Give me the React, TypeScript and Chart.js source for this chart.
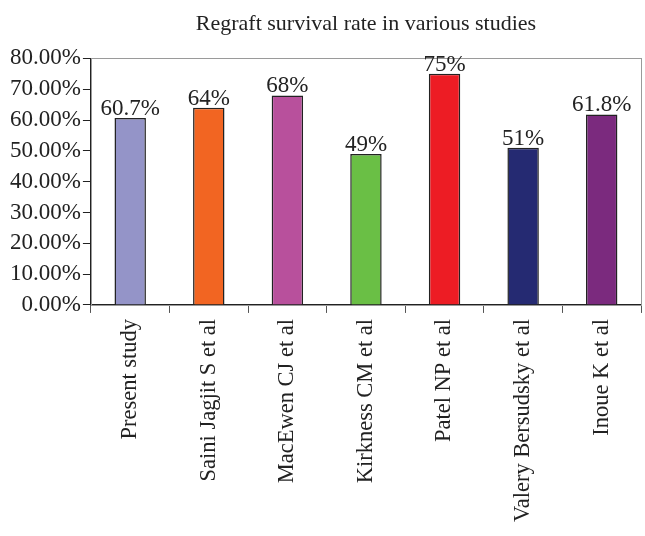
import React, { useEffect, useRef } from "react";
import { Chart, registerables } from "chart.js";

Chart.register(...registerables);

const studies = [
  "Present study",
  "Saini Jagjit S et al",
  "MacEwen CJ et al",
  "Kirkness CM et al",
  "Patel NP et al",
  "Valery Bersudsky et al",
  "Inoue K et al",
];

const survivalRates = [60.7, 64, 68, 49, 75, 51, 61.8];

const barColors = [
  "#9494c8",
  "#f26522",
  "#b8509c",
  "#6abf45",
  "#ed1c24",
  "#252a72",
  "#7b2a7e",
];

const FONT = "'Liberation Serif', 'Times New Roman', serif";
const TEXT_SIZE = 23;

// Light grey frame around the plot area (top and right edges show through)
const framePlugin = {
  id: "plotFrame",
  beforeDatasetsDraw(chart: any) {
    const { ctx, chartArea } = chart;
    ctx.save();
    ctx.strokeStyle = "#9a9a9a";
    ctx.lineWidth = 1;
    ctx.strokeRect(
      Math.round(chartArea.left) + 0.5,
      Math.round(chartArea.top) + 0.5,
      Math.round(chartArea.right - chartArea.left),
      Math.round(chartArea.bottom - chartArea.top)
    );
    ctx.restore();
  },
};

// Value labels above each bar
const valueLabelPlugin = {
  id: "valueLabels",
  afterDatasetsDraw(chart: any) {
    const { ctx } = chart;
    const meta = chart.getDatasetMeta(0);
    const data = chart.data.datasets[0].data as number[];
    ctx.save();
    ctx.font = `${TEXT_SIZE}px ${FONT}`;
    ctx.fillStyle = "#222";
    ctx.textAlign = "center";
    ctx.textBaseline = "alphabetic";
    meta.data.forEach((bar: any, i: number) => {
      ctx.fillText(`${data[i]}%`, bar.x, bar.y - 3);
    });
    ctx.restore();
  },
};

export default function App() {
  const canvasRef = useRef<HTMLCanvasElement>(null);

  useEffect(() => {
    if (!canvasRef.current) return;
    const chart = new Chart(canvasRef.current, {
      type: "bar",
      data: {
        labels: studies,
        datasets: [
          {
            data: survivalRates,
            backgroundColor: barColors,
            borderColor: "#222",
            borderWidth: 1.5,
            barPercentage: 0.4,
            categoryPercentage: 1,
          },
        ],
      },
      options: {
        responsive: false,
        animation: false,
        layout: { padding: { top: 11, right: 4, bottom: 8, left: 8 } },
        plugins: {
          legend: { display: false },
          tooltip: { enabled: false },
          title: {
            display: true,
            text: "Regraft survival rate in various studies",
            color: "#222",
            fullSize: false,
            font: { family: FONT, size: 22, weight: "normal" },
            padding: { top: 0, bottom: 21 },
          },
        },
        scales: {
          x: {
            grid: {
              display: true,
              drawOnChartArea: false,
              drawTicks: true,
              tickLength: 8,
              tickColor: "#555",
              offset: true,
            },
            border: { display: true, color: "#222", width: 1 },
            ticks: {
              color: "#222",
              minRotation: 90,
              maxRotation: 90,
              autoSkip: false,
              padding: 6,
              font: { family: FONT, size: 22.5 },
            },
          },
          y: {
            min: 0,
            max: 80,
            grid: {
              display: true,
              drawOnChartArea: false,
              drawTicks: true,
              tickLength: 8,
              tickColor: "#222",
            },
            border: { display: true, color: "#222", width: 1 },
            ticks: {
              stepSize: 10,
              autoSkip: false,
              color: "#222",
              padding: 2,
              font: { family: FONT, size: TEXT_SIZE },
              callback: (v: any) => `${Number(v).toFixed(2)}%`,
            },
          },
        },
      },
      plugins: [framePlugin, valueLabelPlugin],
    });
    return () => chart.destroy();
  }, []);

  return (
    <div style={{ position: "absolute", left: 0, top: 0, width: 645, height: 536, background: "#fff" }}>
      <canvas ref={canvasRef} width={645} height={536} />
    </div>
  );
}
